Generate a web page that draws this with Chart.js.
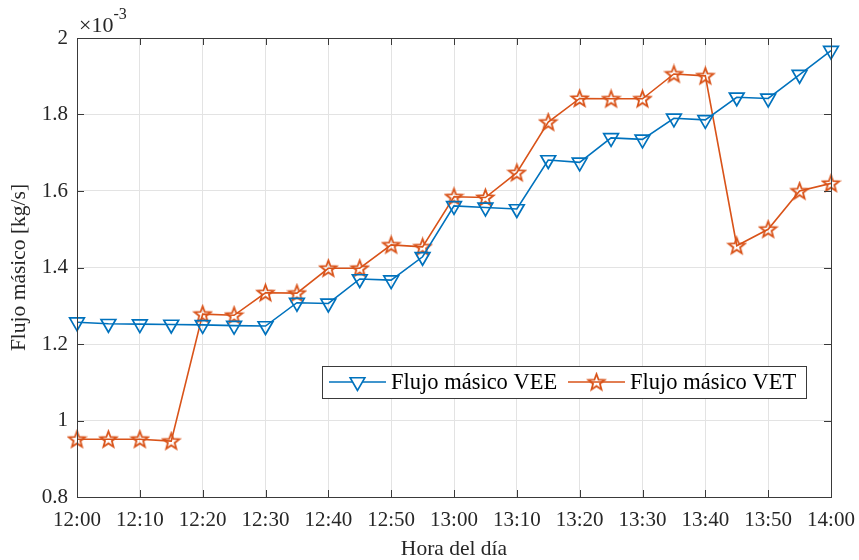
<!DOCTYPE html>
<html>
<head>
<meta charset="utf-8">
<script src="https://cdn.jsdelivr.net/npm/chart.js@4.4.1/dist/chart.umd.min.js"></script>
<style>
  html, body { margin: 0; padding: 0; background: #ffffff; }
  #chart-container { position: relative; width: 859px; height: 560px; }
</style>
</head>
<body>
<div id="chart-container"><canvas id="flujoChart"></canvas></div>
<script>
// Hora de cada medición (cada 5 minutos)
var horas = ['12:00', '12:05', '12:10', '12:15', '12:20', '12:25', '12:30', '12:35', '12:40',
  '12:45', '12:50', '12:55', '13:00', '13:05', '13:10', '13:15', '13:20', '13:25', '13:30',
  '13:35', '13:40', '13:45', '13:50', '13:55', '14:00'];

// Flujo másico en kg/s (x 10^-3)
var flujoVEE = [1.257, 1.253, 1.252, 1.251, 1.250, 1.248, 1.247, 1.308, 1.306, 1.370, 1.367,
  1.428, 1.561, 1.557, 1.553, 1.681, 1.675, 1.739, 1.735, 1.790, 1.786, 1.845, 1.842, 1.904, 1.967];
var flujoVET = [0.951, 0.951, 0.951, 0.946, 1.278, 1.275, 1.334, 1.333, 1.398, 1.398, 1.459,
  1.454, 1.585, 1.583, 1.648, 1.780, 1.842, 1.841, 1.841, 1.906, 1.901, 1.457, 1.500, 1.600, 1.620];

var ticksX = ['12:00', '12:10', '12:20', '12:30', '12:40', '12:50', '13:00', '13:10', '13:20',
  '13:30', '13:40', '13:50', '14:00'];
var ticksY = [0.8, 1, 1.2, 1.4, 1.6, 1.8, 2];

var FONT = '"Liberation Serif", "Times New Roman", serif';
var AZUL = '#0072BD';
var NARANJA = '#D95319';

// minutos transcurridos desde las 12:00
function aMinutos(h) {
  var p = h.split(':');
  return (parseInt(p[0], 10) - 12) * 60 + parseInt(p[1], 10);
}

// estrella de cinco puntas (pentagrama) como imagen para los puntos
function crearEstrella(color, r) {
  var c = document.createElement('canvas');
  var s = Math.ceil(r * 2 + 4);
  c.width = s;
  c.height = s;
  var g = c.getContext('2d');
  g.beginPath();
  for (var i = 0; i < 10; i++) {
    var rad = (i % 2 === 0) ? r : r * 0.42;
    var ang = -Math.PI / 2 + i * Math.PI / 5;
    var px = s / 2 + rad * Math.cos(ang);
    var py = s / 2 + 0.6 + rad * Math.sin(ang);
    if (i === 0) g.moveTo(px, py); else g.lineTo(px, py);
  }
  g.closePath();
  g.strokeStyle = color;
  g.lineWidth = 1.8;
  g.lineJoin = 'miter';
  g.stroke();
  return c;
}
var estrella = crearEstrella(NARANJA, 8.5);

var puntosVEE = horas.map(function (h, i) { return { x: aMinutos(h), y: flujoVEE[i] }; });
var puntosVET = horas.map(function (h, i) { return { x: aMinutos(h), y: flujoVET[i] }; });

// caja de ejes con marcas hacia dentro, factor x10^-3 y leyenda
var cajaEjes = {
  id: 'cajaEjes',
  afterDraw: function (chart) {
    var ctx = chart.ctx;
    var a = chart.chartArea;
    var sx = chart.scales.x;
    var sy = chart.scales.y;
    var largo = 7;
    ctx.save();
    ctx.strokeStyle = '#3a3a3a';
    ctx.lineWidth = 1;
    ctx.beginPath();
    ticksX.forEach(function (t) {
      var px = Math.round(sx.getPixelForValue(aMinutos(t))) + 0.5;
      ctx.moveTo(px, a.bottom); ctx.lineTo(px, a.bottom - largo);
      ctx.moveTo(px, a.top); ctx.lineTo(px, a.top + largo);
    });
    ticksY.forEach(function (t) {
      var py = Math.round(sy.getPixelForValue(t)) + 0.5;
      ctx.moveTo(a.left, py); ctx.lineTo(a.left + largo, py);
      ctx.moveTo(a.right, py); ctx.lineTo(a.right - largo, py);
    });
    ctx.stroke();
    ctx.strokeRect(Math.round(a.left) + 0.5, Math.round(a.top) + 0.5,
      Math.round(a.right - a.left), Math.round(a.bottom - a.top));

    // factor de escala del eje y
    ctx.fillStyle = '#262626';
    ctx.textAlign = 'left';
    ctx.textBaseline = 'alphabetic';
    ctx.font = '22px ' + FONT;
    ctx.fillText('\u00d710', 79, 32);
    var w = ctx.measureText('\u00d710').width;
    ctx.font = '16px ' + FONT;
    ctx.fillText('-3', 79 + w, 19);

    // leyenda
    var lx = 322, ly = 366, lw = 484, lh = 32;
    var cy = ly + lh / 2;
    ctx.fillStyle = '#ffffff';
    ctx.fillRect(lx, ly, lw, lh);
    ctx.strokeStyle = '#3a3a3a';
    ctx.lineWidth = 1;
    ctx.strokeRect(lx + 0.5, ly + 0.5, lw, lh);
    var items = [
      { x0: 329, x1: 386, color: AZUL, tx: 391, ds: chart.data.datasets[0] },
      { x0: 568, x1: 625, color: NARANJA, tx: 630, ds: chart.data.datasets[1] }
    ];
    items.forEach(function (it, k) {
      ctx.strokeStyle = it.color;
      ctx.lineWidth = 1.6;
      ctx.beginPath();
      ctx.moveTo(it.x0, cy); ctx.lineTo(it.x1, cy);
      ctx.stroke();
      var mx = (it.x0 + it.x1) / 2;
      if (k === 0) {
        ctx.fillStyle = '#ffffff';
        Chart.helpers.drawPoint(ctx, { pointStyle: 'triangle', radius: 8.5, rotation: 180, borderWidth: 1.6 }, mx, cy);
      } else {
        ctx.drawImage(estrella, mx - estrella.width / 2, cy - estrella.height / 2);
      }
      ctx.fillStyle = '#000000';
      ctx.font = '22.5px ' + FONT;
      ctx.textAlign = 'left';
      ctx.textBaseline = 'middle';
      ctx.fillText(it.ds.label, it.tx, cy + 1);
    });
    ctx.restore();
  }
};

var ctx = document.getElementById('flujoChart').getContext('2d');
window.flujoChart = new Chart(ctx, {
  type: 'line',
  data: {
    datasets: [{
      label: 'Flujo másico VEE',
      data: puntosVEE,
      borderColor: AZUL,
      backgroundColor: 'rgba(0,0,0,0)',
      borderWidth: 1.6,
      pointStyle: 'triangle',
      pointRotation: 180,
      pointRadius: 8.5,
      pointBorderWidth: 1.7,
      pointBorderColor: AZUL,
      pointBackgroundColor: 'rgba(0,0,0,0)',
      clip: false,
      tension: 0
    }, {
      label: 'Flujo másico VET',
      data: puntosVET,
      borderColor: NARANJA,
      backgroundColor: 'rgba(0,0,0,0)',
      borderWidth: 1.6,
      pointStyle: estrella,
      pointRadius: 9,
      clip: false,
      tension: 0
    }]
  },
  options: {
    responsive: true,
    maintainAspectRatio: false,
    animation: false,
    events: [],
    layout: { padding: { left: 0, top: 38, right: 28, bottom: 0 } },
    plugins: {
      legend: { display: false },
      tooltip: { enabled: false }
    },
    scales: {
      x: {
        type: 'linear',
        min: 0,
        max: 120,
        afterBuildTicks: function (scale) {
          scale.ticks = ticksX.map(function (t) { return { value: aMinutos(t) }; });
        },
        afterFit: function (scale) {
          scale.height = 63;
          scale.paddingLeft = 0;
          scale.paddingRight = 0;
        },
        ticks: {
          autoSkip: false,
          maxRotation: 0,
          padding: 11,
          color: '#262626',
          font: { family: FONT, size: 21 },
          callback: function (v) {
            var h = 12 + Math.floor(v / 60);
            var m = v % 60;
            return h + ':' + (m < 10 ? '0' : '') + m;
          }
        },
        grid: { color: '#e3e3e3', lineWidth: 1, drawTicks: false },
        border: { display: false },
        title: {
          display: true,
          text: 'Hora del día',
          color: '#262626',
          font: { family: FONT, size: 21.5, lineHeight: 1.0 },
          padding: { top: 0, bottom: 0 }
        }
      },
      y: {
        min: 0.8,
        max: 2,
        afterBuildTicks: function (scale) {
          scale.ticks = ticksY.map(function (t) { return { value: t }; });
        },
        afterFit: function (scale) {
          scale.width = 77;
          scale.paddingTop = 0;
          scale.paddingBottom = 0;
        },
        ticks: {
          padding: 9,
          color: '#262626',
          font: { family: FONT, size: 21 },
          callback: function (v) { return String(Number(v.toFixed(1))); }
        },
        grid: { color: '#e3e3e3', lineWidth: 1, drawTicks: false },
        border: { display: false },
        title: {
          display: true,
          text: 'Flujo másico [kg/s]',
          color: '#262626',
          font: { family: FONT, size: 21.5, lineHeight: 1.2 },
          padding: { top: 6, bottom: 0 }
        }
      }
    }
  },
  plugins: [cajaEjes]
});
</script>
</body>
</html>
